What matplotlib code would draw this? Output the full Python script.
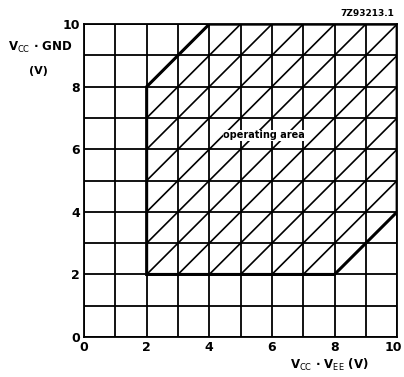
import matplotlib
matplotlib.use('Agg')
import matplotlib.pyplot as plt
from matplotlib.patches import Polygon
from matplotlib.transforms import ScaledTranslation

plt.rcParams['font.family'] = ['DejaVu Sans']

# operating area boundary (Vcc-Vee, Vcc-GND)
area_x = [2, 8, 10, 10, 4, 2]
area_y = [2, 2, 4, 10, 10, 8]
# hatch lines y = x + c
hatch_c = [-6, -5, -4, -3, -2, -1, 0, 1, 2, 3, 4, 5, 6]
ticks = [0, 2, 4, 6, 8, 10]

fig = plt.figure(figsize=(4.04, 3.77), dpi=100)
ax = fig.add_axes([0.208, 0.106, 0.775, 0.830])
ax.set_xlim(0, 10)
ax.set_ylim(0, 10)

# grid every 1 V
for v in range(0, 11):
    ax.plot([v, v], [0, 10], color='k', lw=1.3, solid_capstyle='butt')
    ax.plot([0, 10], [v, v], color='k', lw=1.3, solid_capstyle='butt')

# diagonal hatching clipped to the area
poly = Polygon(list(zip(area_x, area_y)), closed=True, fill=False, lw=2.2,
               edgecolor='k', joinstyle='miter')
ax.add_patch(poly)
clip = Polygon(list(zip(area_x, area_y)), closed=True, transform=ax.transData)
for c in hatch_c:
    ln, = ax.plot([-1, 11], [-1 + c, 11 + c], color='k', lw=1.2)
    ln.set_clip_path(clip)

ax.text(5.75, 6.45, 'operating area', ha='center', va='center', fontsize=7,
        fontweight='bold', bbox=dict(facecolor='white', edgecolor='none', pad=0.5))

for s in ax.spines.values():
    s.set_linewidth(1.3)
ax.set_xticks(ticks)
ax.set_yticks(ticks)
ax.tick_params(length=0, labelsize=9, pad=3)
for lab in ax.get_xticklabels() + ax.get_yticklabels():
    lab.set_fontweight('bold')
last = ax.get_xticklabels()[-1]
last.set_transform(last.get_transform() + ScaledTranslation(-3 / 72, 0, fig.dpi_scale_trans))

fig.text(0.10, 0.875, r'V$_{\mathrm{CC}}$ · GND', ha='center', va='center',
         fontsize=8.5, fontweight='bold')
fig.text(0.095, 0.812, '(V)', ha='center', va='center', fontsize=8, fontweight='bold')
fig.text(0.815, 0.033, r'V$_{\mathrm{CC}}$ · V$_{\mathrm{EE}}$ (V)', ha='center',
         va='center', fontsize=8.5, fontweight='bold')
fig.text(0.975, 0.965, '7Z93213.1', ha='right', va='center', fontsize=6.5,
         fontweight='bold')

fig.savefig('out.png', dpi=100)
